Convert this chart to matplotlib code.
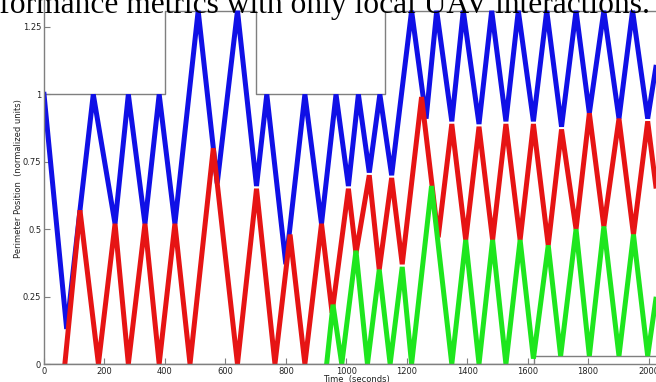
# plot.py
"""Perimeter position of three UAVs over time (recreated figure)."""
import matplotlib
matplotlib.use("Agg")
import matplotlib.pyplot as plt

# blue UAV: (time s, normalized perimeter position) at each turn
blue_t = [0, 75, 119, 163, 235, 279, 334, 381, 433, 510, 573, 640, 703, 737,
          800, 863, 918, 966, 1007, 1040, 1076, 1111, 1150, 1216, 1264, 1299,
          1349, 1387, 1439, 1481, 1528, 1569, 1619, 1663, 1712, 1760, 1804,
          1852, 1902, 1947, 1997, 2024]
blue_v = [1.0, 0.13, 0.57, 1.0, 0.52, 1.0, 0.52, 1.0, 0.52, 1.31, 0.67, 1.31,
          0.66, 1.0, 0.37, 1.0, 0.52, 1.0, 0.66, 1.0, 0.71, 1.0, 0.70, 1.31,
          0.91, 1.31, 0.90, 1.31, 0.89, 1.31, 0.90, 1.31, 0.90, 1.31, 0.88,
          1.31, 0.93, 1.31, 0.91, 1.31, 0.91, 1.10]

# red UAV
red_t = [69, 119, 180, 235, 279, 334, 381, 433, 483, 560, 640, 703, 764, 814,
         863, 918, 953, 1007, 1032, 1076, 1109, 1150, 1185, 1249, 1304, 1349,
         1395, 1439, 1484, 1528, 1575, 1619, 1668, 1712, 1760, 1804, 1852,
         1902, 1950, 1997, 2024]
red_v = [0, 0.57, 0, 0.52, 0, 0.52, 0, 0.52, 0, 0.80, 0, 0.65, 0, 0.48, 0,
         0.52, 0.19, 0.65, 0.41, 0.70, 0.35, 0.69, 0.37, 0.99, 0.47, 0.89,
         0.46, 0.88, 0.46, 0.89, 0.46, 0.89, 0.44, 0.87, 0.50, 0.93, 0.51,
         0.91, 0.48, 0.90, 0.66]

# green UAV (joins at ~935 s)
green_t = [935, 956, 985, 1032, 1070, 1109, 1145, 1185, 1216, 1282, 1349,
           1395, 1439, 1484, 1528, 1575, 1619, 1668, 1709, 1760, 1804, 1852,
           1902, 1950, 1997, 2024]
green_v = [0, 0.22, 0, 0.42, 0, 0.35, 0, 0.36, 0, 0.66, 0, 0.46, 0, 0.46, 0,
           0.46, 0.02, 0.44, 0.03, 0.50, 0.03, 0.51, 0.03, 0.48, 0.03, 0.24]

# perimeter boundaries (step changes)
upper_t = [0, 400, 700, 1128, 2030]
upper_v = [1.0, 1.31, 1.0, 1.31, 1.31]
lower_t = [0, 1622, 2030]
lower_v = [0.0, 0.03, 0.03]

xticks = [0, 200, 400, 600, 800, 1000, 1200, 1400, 1600, 1800, 2000]
yticks = [0, 0.25, 0.5, 0.75, 1.0, 1.25]
ytick_labels = ["0", "0.25", "0.5", "0.75", "1", "1.25"]

W, H = 656, 382
fig = plt.figure(figsize=(W / 100, H / 100), dpi=100)
ax = fig.add_axes([44 / W, 18 / H, (W - 44) / W, 364 / H])

gray = "#7f7f7f"
ax.plot(upper_t, upper_v, drawstyle="steps-post", color=gray, lw=1.0)
ax.plot(lower_t, lower_v, drawstyle="steps-post", color=gray, lw=1.0)
ax.plot(blue_t, blue_v, color="#1010e6", lw=3.6, solid_joinstyle="miter")
ax.plot(red_t, red_v, color="#e61414", lw=3.6, solid_joinstyle="miter")
ax.plot(green_t, green_v, color="#1ee61e", lw=3.6, solid_joinstyle="miter")

ax.set_xlim(0, 2024.5)
ax.set_ylim(0, 1.35)
ax.set_xticks(xticks)
ax.set_yticks(yticks)
ax.set_yticklabels(ytick_labels)
ax.tick_params(direction="in", length=4, width=0.8, color=gray,
               labelsize=6, pad=2, labelcolor="#222222")
for side in ("top", "right"):
    ax.spines[side].set_visible(False)
for side in ("left", "bottom"):
    ax.spines[side].set_color(gray)
    ax.spines[side].set_linewidth(1.0)

ax.set_ylabel("Perimeter Position  (normalized units)", fontsize=6,
              color="#222222")
ax.yaxis.set_label_coords(-0.034, 0.51)
ax.set_xlabel("Time  (seconds)", fontsize=6, color="#222222")
ax.xaxis.set_label_coords(0.511, -0.031)

# caption fragment cut off at the top of the crop
fig.text(650 / W, 1 - 12.5 / H,
         "performance metrics with only local UAV interactions.",
         ha="right", va="baseline", fontsize=22.7, family="Liberation Serif",
         color="black")

fig.savefig("out.png", dpi=100)
